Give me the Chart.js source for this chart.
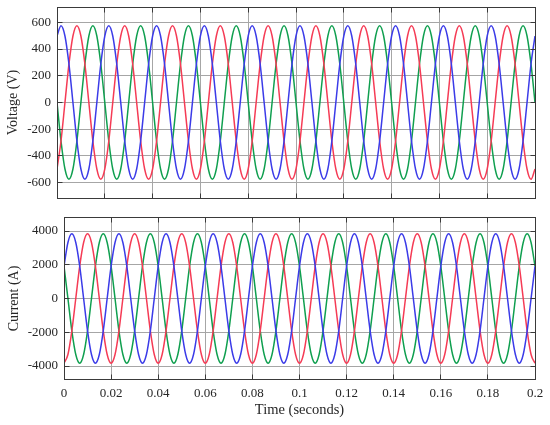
<!DOCTYPE html>
<html><head><meta charset="utf-8">
<script src="https://cdn.jsdelivr.net/npm/chart.js@4.4.0/dist/chart.umd.min.js"></script>
<style>
html,body{margin:0;padding:0;background:#fff;width:550px;height:425px;overflow:hidden}
canvas{position:absolute;left:0;top:0}
</style></head>
<body>
<canvas id="c1" width="550" height="425"></canvas>
<canvas id="c2" width="550" height="425"></canvas>
<script>
// time samples (s)
const times = [
0, 0.00167, 0.00333, 0.005, 0.00667, 0.00833, 0.01, 0.01167, 0.01333, 0.015, 0.01667, 0.01833,
0.02, 0.02167, 0.02333, 0.025, 0.02667, 0.02833, 0.03, 0.03167, 0.03333, 0.035, 0.03667, 0.03833,
0.04, 0.04167, 0.04333, 0.045, 0.04667, 0.04833, 0.05, 0.05167, 0.05333, 0.055, 0.05667, 0.05833,
0.06, 0.06167, 0.06333, 0.065, 0.06667, 0.06833, 0.07, 0.07167, 0.07333, 0.075, 0.07667, 0.07833,
0.08, 0.08167, 0.08333, 0.085, 0.08667, 0.08833, 0.09, 0.09167, 0.09333, 0.095, 0.09667, 0.09833,
0.1, 0.10167, 0.10333, 0.105, 0.10667, 0.10833, 0.11, 0.11167, 0.11333, 0.115, 0.11667, 0.11833,
0.12, 0.12167, 0.12333, 0.125, 0.12667, 0.12833, 0.13, 0.13167, 0.13333, 0.135, 0.13667, 0.13833,
0.14, 0.14167, 0.14333, 0.145, 0.14667, 0.14833, 0.15, 0.15167, 0.15333, 0.155, 0.15667, 0.15833,
0.16, 0.16167, 0.16333, 0.165, 0.16667, 0.16833, 0.17, 0.17167, 0.17333, 0.175, 0.17667, 0.17833,
0.18, 0.18167, 0.18333, 0.185, 0.18667, 0.18833, 0.19, 0.19167, 0.19333, 0.195, 0.19667, 0.19833,
0.2];

// Voltage (V), three phases
const voltageBlue = [
498, 575, 498, 288, 0, -288, -498, -575, -498, -288, 0, 288,
498, 575, 498, 288, 0, -288, -498, -575, -498, -288, 0, 288,
498, 575, 498, 288, 0, -288, -498, -575, -498, -288, 0, 288,
498, 575, 498, 288, 0, -288, -498, -575, -498, -288, 0, 288,
498, 575, 498, 288, 0, -288, -498, -575, -498, -288, 0, 288,
498, 575, 498, 288, 0, -288, -498, -575, -498, -288, 0, 288,
498, 575, 498, 288, 0, -288, -498, -575, -498, -288, 0, 288,
498, 575, 498, 288, 0, -288, -498, -575, -498, -288, 0, 288,
498, 575, 498, 288, 0, -288, -498, -575, -498, -288, 0, 288,
498, 575, 498, 288, 0, -288, -498, -575, -498, -288, 0, 288,
498];
const voltageRed = [
-498, -288, 0, 288, 498, 575, 498, 288, 0, -288, -498, -575,
-498, -288, 0, 288, 498, 575, 498, 288, 0, -288, -498, -575,
-498, -288, 0, 288, 498, 575, 498, 288, 0, -288, -498, -575,
-498, -288, 0, 288, 498, 575, 498, 288, 0, -288, -498, -575,
-498, -288, 0, 288, 498, 575, 498, 288, 0, -288, -498, -575,
-498, -288, 0, 288, 498, 575, 498, 288, 0, -288, -498, -575,
-498, -288, 0, 288, 498, 575, 498, 288, 0, -288, -498, -575,
-498, -288, 0, 288, 498, 575, 498, 288, 0, -288, -498, -575,
-498, -288, 0, 288, 498, 575, 498, 288, 0, -288, -498, -575,
-498, -288, 0, 288, 498, 575, 498, 288, 0, -288, -498, -575,
-498];
const voltageGreen = [
0, -288, -498, -575, -498, -288, 0, 288, 498, 575, 498, 288,
0, -288, -498, -575, -498, -288, 0, 288, 498, 575, 498, 288,
0, -288, -498, -575, -498, -288, 0, 288, 498, 575, 498, 288,
0, -288, -498, -575, -498, -288, 0, 288, 498, 575, 498, 288,
0, -288, -498, -575, -498, -288, 0, 288, 498, 575, 498, 288,
0, -288, -498, -575, -498, -288, 0, 288, 498, 575, 498, 288,
0, -288, -498, -575, -498, -288, 0, 288, 498, 575, 498, 288,
0, -288, -498, -575, -498, -288, 0, 288, 498, 575, 498, 288,
0, -288, -498, -575, -498, -288, 0, 288, 498, 575, 498, 288,
0, -288, -498, -575, -498, -288, 0, 288, 498, 575, 498, 288,
0];

// Current (A), three phases
const currentBlue = [
1915, 3317, 3830, 3317, 1915, 0, -1915, -3317, -3830, -3317, -1915, 0,
1915, 3317, 3830, 3317, 1915, 0, -1915, -3317, -3830, -3317, -1915, 0,
1915, 3317, 3830, 3317, 1915, 0, -1915, -3317, -3830, -3317, -1915, 0,
1915, 3317, 3830, 3317, 1915, 0, -1915, -3317, -3830, -3317, -1915, 0,
1915, 3317, 3830, 3317, 1915, 0, -1915, -3317, -3830, -3317, -1915, 0,
1915, 3317, 3830, 3317, 1915, 0, -1915, -3317, -3830, -3317, -1915, 0,
1915, 3317, 3830, 3317, 1915, 0, -1915, -3317, -3830, -3317, -1915, 0,
1915, 3317, 3830, 3317, 1915, 0, -1915, -3317, -3830, -3317, -1915, 0,
1915, 3317, 3830, 3317, 1915, 0, -1915, -3317, -3830, -3317, -1915, 0,
1915, 3317, 3830, 3317, 1915, 0, -1915, -3317, -3830, -3317, -1915, 0,
1915];
const currentRed = [
-3830, -3317, -1915, 0, 1915, 3317, 3830, 3317, 1915, 0, -1915, -3317,
-3830, -3317, -1915, 0, 1915, 3317, 3830, 3317, 1915, 0, -1915, -3317,
-3830, -3317, -1915, 0, 1915, 3317, 3830, 3317, 1915, 0, -1915, -3317,
-3830, -3317, -1915, 0, 1915, 3317, 3830, 3317, 1915, 0, -1915, -3317,
-3830, -3317, -1915, 0, 1915, 3317, 3830, 3317, 1915, 0, -1915, -3317,
-3830, -3317, -1915, 0, 1915, 3317, 3830, 3317, 1915, 0, -1915, -3317,
-3830, -3317, -1915, 0, 1915, 3317, 3830, 3317, 1915, 0, -1915, -3317,
-3830, -3317, -1915, 0, 1915, 3317, 3830, 3317, 1915, 0, -1915, -3317,
-3830, -3317, -1915, 0, 1915, 3317, 3830, 3317, 1915, 0, -1915, -3317,
-3830, -3317, -1915, 0, 1915, 3317, 3830, 3317, 1915, 0, -1915, -3317,
-3830];
const currentGreen = [
1915, 0, -1915, -3317, -3830, -3317, -1915, 0, 1915, 3317, 3830, 3317,
1915, 0, -1915, -3317, -3830, -3317, -1915, 0, 1915, 3317, 3830, 3317,
1915, 0, -1915, -3317, -3830, -3317, -1915, 0, 1915, 3317, 3830, 3317,
1915, 0, -1915, -3317, -3830, -3317, -1915, 0, 1915, 3317, 3830, 3317,
1915, 0, -1915, -3317, -3830, -3317, -1915, 0, 1915, 3317, 3830, 3317,
1915, 0, -1915, -3317, -3830, -3317, -1915, 0, 1915, 3317, 3830, 3317,
1915, 0, -1915, -3317, -3830, -3317, -1915, 0, 1915, 3317, 3830, 3317,
1915, 0, -1915, -3317, -3830, -3317, -1915, 0, 1915, 3317, 3830, 3317,
1915, 0, -1915, -3317, -3830, -3317, -1915, 0, 1915, 3317, 3830, 3317,
1915, 0, -1915, -3317, -3830, -3317, -1915, 0, 1915, 3317, 3830, 3317,
1915];

// tick values and labels
const timeTicks = [0, 0.02, 0.04, 0.06, 0.08, 0.1, 0.12, 0.14, 0.16, 0.18, 0.2];
const timeLabels = ['0', '0.02', '0.04', '0.06', '0.08', '0.1', '0.12', '0.14', '0.16', '0.18', '0.2'];
const voltageTicks = [-600, -400, -200, 0, 200, 400, 600];
const voltageLabels = ['-600', '-400', '-200', '0', '200', '400', '600'];
const currentTicks = [-4000, -2000, 0, 2000, 4000];
const currentLabels = ['-4000', '-2000', '0', '2000', '4000'];

const SERIF = "'Liberation Serif', 'Times New Roman', 'DejaVu Serif', serif";
const TEXT = '#262626';
const GRID = '#a6a6a6';
const COLORS = {blue: '#3b3be8', red: '#f53b55', green: '#0f9f4f'};

function pts(ys) { return times.map((t, i) => ({x: t, y: ys[i]})); }

const framePlugin = {
  id: 'frame',
  afterDraw(chart) {
    const {ctx, chartArea: a, scales} = chart;
    const al = p => Math.round(p - 0.5) + 0.5;
    const L = al(a.left), R = al(a.right), T = al(a.top), B = al(a.bottom);
    ctx.save();
    ctx.strokeStyle = '#3a3a3a';
    ctx.lineWidth = 1;
    ctx.strokeRect(L, T, R - L, B - T);
    ctx.beginPath();
    scales.x.ticks.forEach(t => {
      const px = al(scales.x.getPixelForValue(t.value));
      ctx.moveTo(px, B); ctx.lineTo(px, B - 5);
      ctx.moveTo(px, T); ctx.lineTo(px, T + 5);
    });
    scales.y.ticks.forEach(t => {
      const py = al(scales.y.getPixelForValue(t.value));
      ctx.moveTo(L, py); ctx.lineTo(L + 5, py);
      ctx.moveTo(R, py); ctx.lineTo(R - 5, py);
    });
    ctx.stroke();
    ctx.restore();
  }
};

function makeChart(id, series, yTicks, yLabels, yLim, yTitle, yWidth, yTitlePad, pad, showX) {
  return new Chart(document.getElementById(id), {
    type: 'line',
    data: {
      datasets: [
        {data: pts(series[0]), borderColor: COLORS.blue},
        {data: pts(series[1]), borderColor: COLORS.red},
        {data: pts(series[2]), borderColor: COLORS.green}
      ].map(d => Object.assign(d, {borderWidth: 1.5, pointRadius: 0, fill: false, cubicInterpolationMode: 'monotone'}))
    },
    options: {
      responsive: false,
      animation: false,
      devicePixelRatio: 1,
      layout: {padding: pad},
      plugins: {legend: {display: false}, tooltip: {enabled: false}},
      scales: {
        x: {
          type: 'linear', min: 0, max: 0.2,
          afterBuildTicks: s => { s.ticks = timeTicks.map(v => ({value: v})); },
          afterFit: s => { s.height = showX ? 45.5 : 0; s.paddingLeft = 0; s.paddingRight = 0; },
          grid: {color: GRID, drawTicks: false},
          border: {display: false},
          ticks: {
            display: showX, padding: 6, color: TEXT, maxRotation: 0, autoSkip: false,
            font: {family: SERIF, size: 13},
            callback: (v, i) => timeLabels[i]
          },
          title: {display: showX, text: 'Time (seconds)', color: TEXT,
                  font: {family: SERIF, size: 14.5}, padding: {top: 0, bottom: 6.3}}
        },
        y: {
          type: 'linear', min: yLim[0], max: yLim[1],
          afterBuildTicks: s => { s.ticks = yTicks.map(v => ({value: v})); },
          afterFit: s => { s.width = yWidth; s.paddingTop = 0; s.paddingBottom = 0; },
          grid: {color: GRID, drawTicks: false},
          border: {display: false},
          ticks: {padding: 6, color: TEXT, font: {family: SERIF, size: 13},
                  callback: (v, i) => yLabels[i]},
          title: {display: true, text: yTitle, color: TEXT,
                  font: {family: SERIF, size: 14}, padding: {top: yTitlePad, bottom: 0}}
        }
      }
    },
    plugins: [framePlugin]
  });
}

makeChart('c1', [voltageBlue, voltageRed, voltageGreen], voltageTicks, voltageLabels, [-715, 715],
  'Voltage (V)', 57, 4.6, {top: 7, left: 0, right: 15, bottom: 227}, false);
makeChart('c2', [currentBlue, currentRed, currentGreen], currentTicks, currentLabels, [-4800, 4800],
  'Current (A)', 64, 5.6, {top: 217.5, left: 0, right: 15, bottom: 0}, true);
</script>
</body></html>
